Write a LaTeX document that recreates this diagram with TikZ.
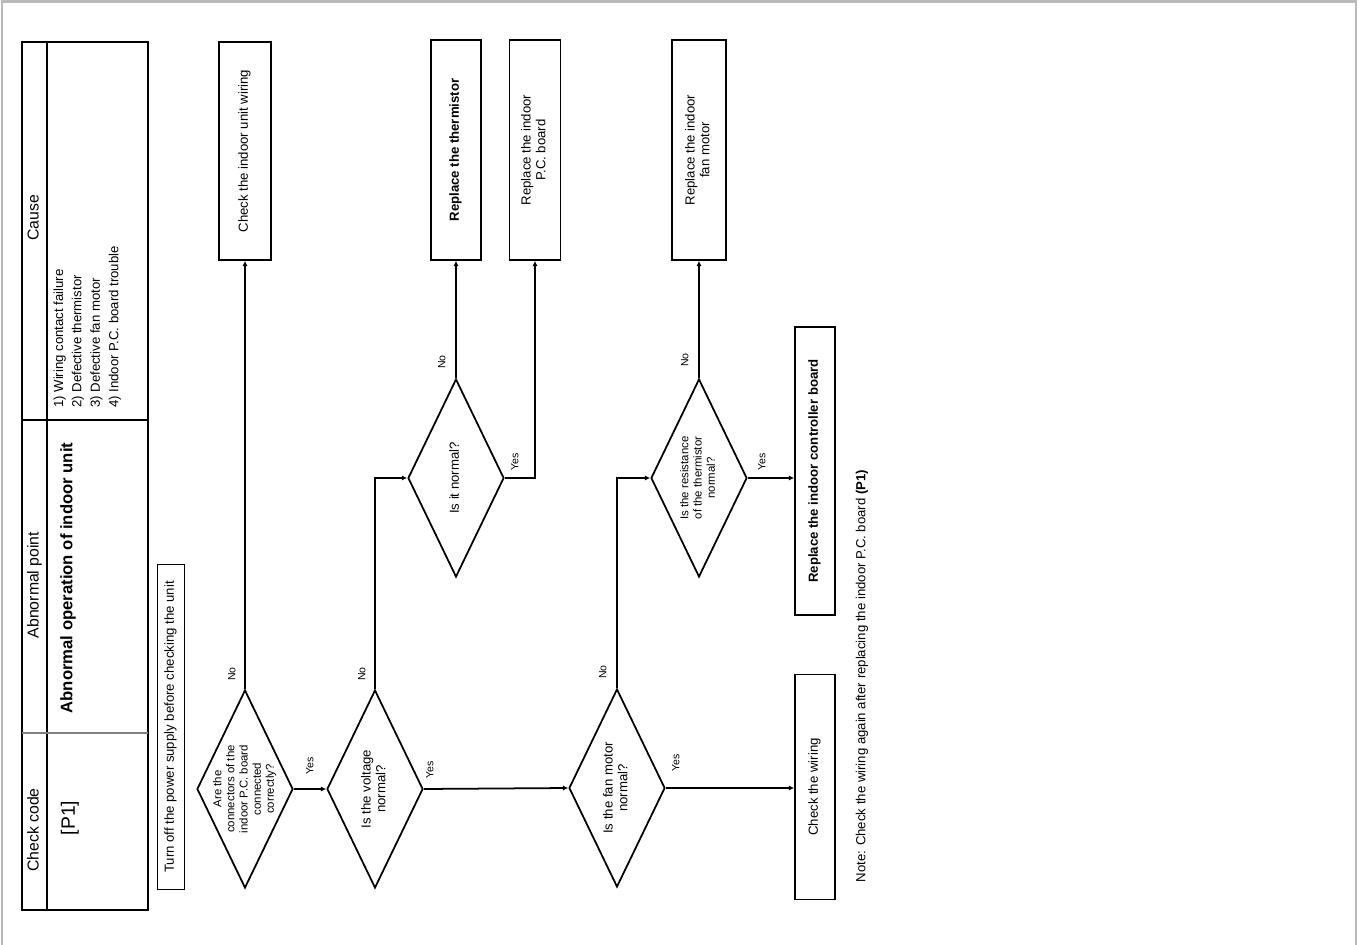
\documentclass[tikz,border=0pt]{standalone}
\usepackage{fontspec}
\setmainfont{Liberation Sans}
\usetikzlibrary{shapes.geometric,arrows.meta}

% rotated text, reading upwards
\newcommand{\rt}[1]{\rotatebox{90}{\begin{tabular}{@{}c@{}}#1\end{tabular}}}
\newcommand{\rtl}[1]{\rotatebox{90}{\begin{tabular}{@{}l@{}}#1\end{tabular}}}

\tikzset{
  chk/.style={diamond, draw, line width=1pt, inner sep=0pt,
    minimum width=1.92cm, minimum height=3.96cm},
  act/.style={rectangle, draw, line width=1pt, inner sep=0pt},
  flow/.style={line width=1pt, -{Latex[length=3pt,width=3pt]}},
  ans/.style={inner sep=0pt, font=\fontsize{6}{7}\selectfont},
  head/.style={font=\fontsize{9}{10}\selectfont},
  small/.style={font=\fontsize{6.5}{7.5}\selectfont},
}

\begin{document}
\begin{tikzpicture}[x=0.02cm,y=-0.02cm,font=\fontsize{7.5}{8.5}\selectfont]
\useasboundingbox (0,0) rectangle (1359,945);
\draw[gray!55,line width=1.5pt] (2,945) -- (2,1.5) -- (1356,1.5) -- (1356,945);

% table
\draw[line width=1pt] (22,42) rectangle (148,910);
\draw[line width=1pt] (47,42) -- (47,910);
\draw[line width=0.6pt] (22,420) -- (148,420);
\draw[line width=0.6pt,gray] (22,733) -- (148,733);
\node[head] (hcode) at (35,830) {\rt{Check code}};
\node[head] (hpoint) at (35,585) {\rt{Abnormal point}};
\node[head] (hcause) at (35,218) {\rt{Cause}};
\node (code) at (70,818) {\rotatebox{90}{\fontsize{11}{12}\selectfont [P1]}};
\node (point) at (68,578) {\rotatebox{90}{\fontsize{9.5}{11}\selectfont\bfseries Abnormal operation of indoor unit}};
\node[anchor=south,font=\fontsize{7.5}{10.5}\selectfont] (cause) at (87,414) {\rtl{1) Wiring contact failure\\2) Defective thermistor\\3) Defective fan motor\\4) Indoor P.C. board trouble}};

\node[draw,line width=0.6pt,minimum width=0.5cm,minimum height=6.5cm] (note) at (171,727)
  {\rt{Turn off the power supply before checking the unit}};

% flow
\node[chk,label={[small]center:{\rt{Are the\\connectors of the\\indoor P.C. board\\connected\\correctly?}}}] (d1) at (245,789) {};
\node[chk,label=center:{\rt{Is the voltage\\normal?}}] (d2) at (375,789) {};
\node[chk,label=center:{\rt{Is the fan motor\\normal?}}] (d3) at (617,788) {};
\node[chk,label=center:{\rt{Is it normal?}}] (d4) at (456,478) {};
\node[chk,label={[small]center:{\rt{Is the resistance\\of the thermistor\\normal?}}}] (d5) at (699,478) {};

\node[act,minimum width=1.04cm,minimum height=4.36cm] (b1) at (245,151) {\rt{Check the indoor unit wiring}};
\node[act,minimum width=1cm,minimum height=4.4cm] (b2) at (456,150) {\rt{\bfseries Replace the thermistor}};
\node[act,minimum width=1.02cm,minimum height=4.4cm] (b3) at (535,150) {\rt{Replace the indoor\\P.C. board}};
\node[act,minimum width=1.08cm,minimum height=4.4cm] (b4) at (699,150) {\rt{Replace the indoor\\fan motor}};
\node[act,minimum width=0.8cm,minimum height=4.5cm] (b5) at (815,787) {\rt{Check the wiring}};
\node[act,minimum width=0.8cm,minimum height=5.76cm] (b6) at (815,471) {\rt{\bfseries Replace the indoor controller board}};

\draw[flow] (d1.north) -- (b1.south);
\draw[flow] (d1.east) -- (d2.west);
\draw[flow] (d2.north) |- (d4.west);
\draw[flow] (d2.east) -- (d3.west);
\draw[flow] (d4.north) -- (b2.south);
\draw[flow] (d4.east) -| (b3.south);
\draw[flow] (d3.north) |- (d5.west);
\draw[flow] (d3.east) -- (d3.east -| b5.west);
\draw[flow] (d5.north) -- (b4.south);
\draw[flow] (d5.east) -- (d5.east -| b6.west);

\node[ans] (n1) at (233,674) {\rt{No}};
\node[ans] (n2) at (363,674) {\rt{No}};
\node[ans] (n3) at (443,362) {\rt{No}};
\node[ans] (n4) at (604,672) {\rt{No}};
\node[ans] (n5) at (686,360) {\rt{No}};
\node[ans] (y1) at (311,766) {\rt{Yes}};
\node[ans] (y2) at (431,770) {\rt{Yes}};
\node[ans] (y3) at (677,763) {\rt{Yes}};
\node[ans] (y4) at (516,462) {\rt{Yes}};
\node[ans] (y5) at (763,462) {\rt{Yes}};

\node (remark) at (862,676) {\rotatebox{90}{Note: Check the wiring again after replacing the indoor P.C. board \textbf{(P1)}}};
\end{tikzpicture}
\end{document}
